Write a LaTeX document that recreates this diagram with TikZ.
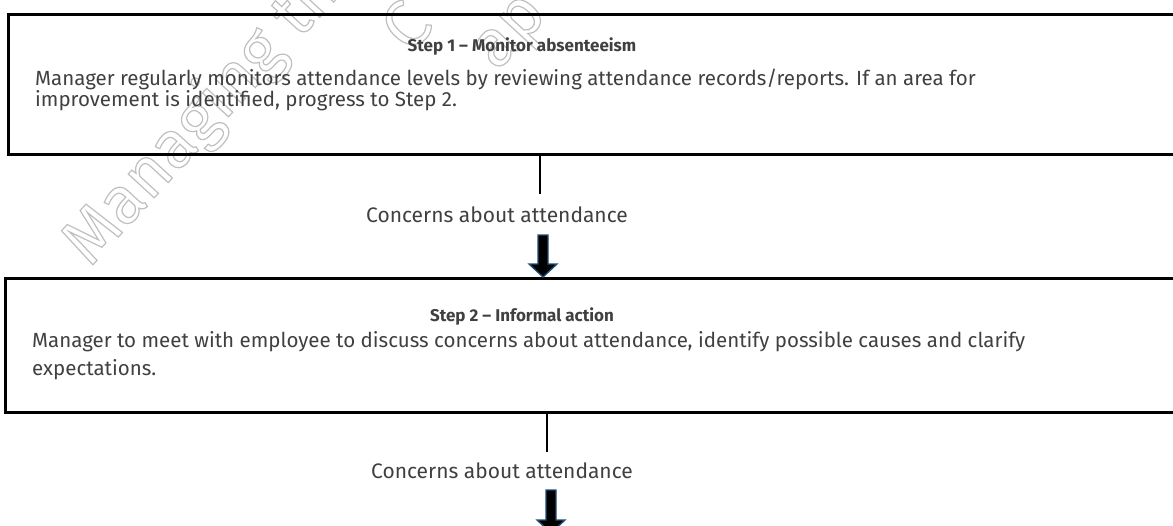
\documentclass[tikz,border=0pt]{standalone}
\usepackage{fontspec}
\setmainfont{Fira Sans}
\usepackage{tikz}
\usetikzlibrary{calc}

\definecolor{bodytext}{HTML}{404040}
\definecolor{arrowrim}{HTML}{1F4E79}

% hollow letters for the faint stamp behind the chart
\newcommand\hollowtext[1]{\special{pdf:literal direct 1 Tr 1.2 w 0.75 0.75 0.75 RG}#1\special{pdf:literal direct 0 Tr}}
% fat down arrow from #1 to #2
\newcommand\fatarrow[2]{%
  \filldraw[blockarr] ($(#1)+(-5,0)$) -- ($(#2)+(-5,-13)$) -- ($(#2)+(-14,-13)$) -- (#2)
    -- ($(#2)+(14,-13)$) -- ($(#2)+(5,-13)$) -- ($(#1)+(5,0)$) -- cycle;}

\begin{document}
\begin{tikzpicture}[x=1pt, y=-1pt,
  every node/.style={font=\fontsize{21}{22}\selectfont, text=bodytext, inner sep=0pt},
  stepbox/.style={draw=black, line width=3pt, minimum width=1190pt, minimum height=140pt, anchor=north west},
  heading/.style={font=\fontsize{17}{20}\selectfont\bfseries, anchor=base},
  bodytxt/.style={font=\fontsize{20.5}{21}\selectfont, anchor=base west, align=left},
  link/.style={line width=1.8pt},
  blockarr/.style={fill=black, draw=arrowrim, line width=1.3pt, line join=miter},
  stamp/.style={font=\fontsize{67}{67}\selectfont, rotate=47.5, anchor=base west}]
	\useasboundingbox (0,0) rectangle (1173,525);
	% watermark pieces
	\node[stamp] (wm1) at (90,268) {\hollowtext{Managing th}};
	\node[stamp] (wm2) at (410,55) {\hollowtext{C}};
	\node[stamp] (wm3) at (497,72) {\hollowtext{ap}};
	% boxes
	\node[stepbox] (box1) at (7,12.5) {};
	\node[stepbox, minimum height=134pt] (box2) at (3.5,277) {};
	\node[heading] (head1) at (522,51) {Step 1 – Monitor absenteeism};
	\node[bodytxt] (body1) at (35,106) {Manager regularly monitors attendance levels by reviewing attendance records/reports. If an area for\\improvement is identified, progress to Step 2.};
	\node[heading] (head2) at (522,321) {Step 2 – Informal action};
	\node[bodytxt, font=\fontsize{20.5}{28}\selectfont] (body2) at (32,375) {Manager to meet with employee to discuss concerns about attendance, identify possible causes and clarify\\expectations.};
	% connectors
	\coordinate (stem1) at (540,194);
	\draw[link] (box1.south -| stem1) -- (stem1);
	\node (lab1) at (497,215) {Concerns about attendance};
	\coordinate (arr1) at (543,235);
	\fatarrow{arr1}{box2.north -| arr1}
	\coordinate (stem2) at (547,452);
	\draw[link] (box2.south -| stem2) -- (stem2);
	\node (lab2) at (502,471) {Concerns about attendance};
	\coordinate (arr2) at (551,490);
	\coordinate (tip2) at (551,533);
	\fatarrow{arr2}{tip2}
\end{tikzpicture}
\end{document}
